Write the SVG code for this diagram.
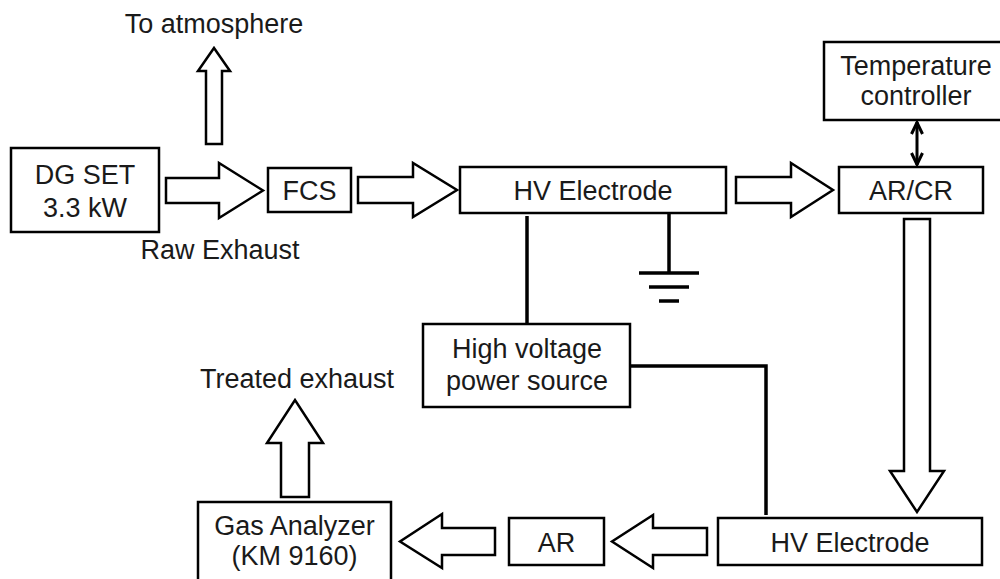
<svg xmlns="http://www.w3.org/2000/svg" width="1000" height="579" viewBox="0 0 1000 579">
<style>
.box{fill:#fff;stroke:#000;stroke-width:2.5}
.arr{fill:#fff;stroke:#000;stroke-width:2.5;stroke-linejoin:miter}
.ln{fill:none;stroke:#000;stroke-width:3.5}
text{font-family:"Liberation Sans",Arial,sans-serif;font-size:27px;fill:#1a1a1a;text-anchor:middle}
</style>
<defs>
<marker id="ah" viewBox="0 0 14 14" refX="13" refY="7" markerWidth="14" markerHeight="14" markerUnits="userSpaceOnUse" orient="auto-start-reverse">
<path d="M1,1.5 L12.5,7 L1,12.5" fill="none" stroke="#000" stroke-width="3"/>
</marker>
</defs>
<g id="connectors">
<path class="arr" d="M206,144 V71 H198 L214,48 L230,71 H222 V144 Z"/>
<path class="arr" d="M166,178 H219 V163 L263,190.5 L219,218 V203 H166 Z"/>
<path class="arr" d="M358,177 H413 V163 L457,190 L413,217 V203 H358 Z"/>
<path class="arr" d="M736,177 H791 V163 L833,190 L791,217 V203 H736 Z"/>
<path class="arr" d="M904,219 V471 H890 L917,512 L944,471 H930 V219 Z"/>
<path class="arr" d="M707,528 H653 V515 L612,541.5 L653,568 V555 H707 Z"/>
<path class="arr" d="M495,528 H442 V514 L400,541.5 L442,568 V555 H495 Z"/>
<path class="arr" d="M281,497 V443 H267 L295,400 L323,443 H309 V497 Z"/>
<line class="ln" x1="527" y1="216" x2="527" y2="324"/>
<path class="ln" d="M631,366 H766 V515"/>
<line class="ln" x1="669" y1="213" x2="669" y2="273"/>
<line class="ln" x1="639" y1="273" x2="699" y2="273"/>
<line class="ln" x1="649" y1="287" x2="689" y2="287"/>
<line class="ln" x1="659" y1="301" x2="679" y2="301"/>
<line x1="917" y1="122" x2="917" y2="165" stroke="#000" stroke-width="3" marker-start="url(#ah)" marker-end="url(#ah)"/>
</g>
<text x="214" y="33">To atmosphere</text>
<text x="220" y="259">Raw Exhaust</text>
<text x="297" y="388">Treated exhaust</text>
<g id="dgset"><rect class="box" x="11" y="148" width="148" height="84"/><text x="85" y="184">DG SET</text><text x="85" y="217">3.3 kW</text></g>
<g id="fcs"><rect class="box" x="268" y="168" width="83" height="44"/><text x="309.5" y="200">FCS</text></g>
<g id="hv1"><rect class="box" x="460" y="167" width="266" height="46"/><text x="593" y="200">HV Electrode</text></g>
<g id="tc"><rect class="box" x="824" y="42" width="180" height="78"/><text x="916" y="75">Temperature</text><text x="916" y="105">controller</text></g>
<g id="arcr"><rect class="box" x="839" y="167" width="144" height="46"/><text x="911" y="200">AR/CR</text></g>
<g id="hvps"><rect class="box" x="423" y="324" width="207" height="83"/><text x="527" y="358">High voltage</text><text x="527" y="390">power source</text></g>
<g id="hv2"><rect class="box" x="718" y="518" width="264" height="47"/><text x="850" y="552">HV Electrode</text></g>
<g id="ar"><rect class="box" x="509" y="518" width="95" height="47"/><text x="556.5" y="552">AR</text></g>
<g id="ga"><rect class="box" x="198" y="502" width="193" height="82"/><text x="294.5" y="535">Gas Analyzer</text><text x="294.5" y="565">(KM 9160)</text></g>
</svg>
